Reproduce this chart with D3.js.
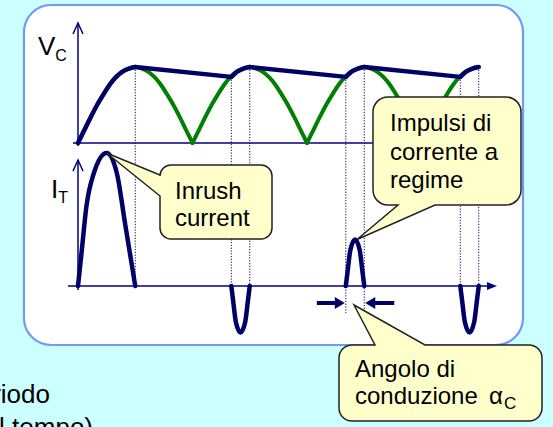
<!DOCTYPE html>
<html><head><meta charset="utf-8">
<script src="https://cdn.jsdelivr.net/npm/d3@7"></script>
<style>html,body{margin:0;padding:0;background:#ccffff;overflow:hidden} svg{display:block;font-family:"Liberation Sans",Arial,sans-serif}</style>
</head><body><svg id="c" width="553" height="427"></svg>
<script>
// ---------- data ----------
const archAngles = [0,10,20,30,40,50,60,70,80,90,100,110,120,130,140,150,160,170,180];
const archValues = [0,0.17,0.34,0.5,0.64,0.77,0.87,0.94,0.98,1,0.98,0.94,0.87,0.77,0.64,0.5,0.34,0.17,0];
const archStarts = [0,180,360,540];
const vEndAngle = 630;
const peakAngles = [90,270,450,630];
const chargeAngles = [241,421,601];
const chargeLevels = [0.87,0.87,0.87];
const inrushAngles = [0,6,13,25,45,61,74,90];
const inrushCurrent = [0,2.7,5.9,8.5,10,8.5,4.7,0];
const pulseStart = [241,421,601];
const pulseEnd = [270,450,630];
const pulsePeak = [-3.5,3.5,-3.5];
const pulseShapeFrac = [0,0.1,0.25,0.5,0.75,0.9,1];
const pulseShapeVal = [0,0.32,0.78,1,0.78,0.32,0];
const guideAngles = [90,241,270,421,450,601,630];
const conductionAngles = [421,450];
const calloutTexts = [["Inrush","current"],["Impulsi di","corrente a","regime"],["Angolo di","conduzione","α","C"]];
const sideTexts = ["periodo","(andamento nel tempo)"];

// ---------- layout ----------
const svg = d3.select("#c");
const navy = "#000066", green = "#008000";
const x = d3.scaleLinear().domain([0,180]).range([78,192.5]);
const yV = d3.scaleLinear().domain([0,1]).range([143,67]);
const yI = d3.scaleLinear().domain([0,10]).range([286,153]);

svg.append("rect").attr("width",553).attr("height",427).attr("fill","#ccffff");
svg.append("rect").attr("x",24).attr("y",5).attr("width",499).attr("height",340).attr("rx",27)
  .attr("fill","#fff").attr("stroke","#6f9bf5").attr("stroke-width",2.2);

// side text (partially outside, as in the reference)
svg.append("text").attr("x",50).attr("y",403).attr("text-anchor","end").attr("font-size",26).attr("fill","#000").text(sideTexts[0]);
svg.append("text").attr("x",93).attr("y",436).attr("text-anchor","end").attr("font-size",26).attr("fill","#000").text(sideTexts[1]);

// guide dotted lines
const levelAt = a => { const k = chargeAngles.indexOf(a); return k >= 0 ? chargeLevels[k] : 1; };
svg.append("g").selectAll("line").data(guideAngles).join("line")
  .attr("x1",d=>x(d)).attr("x2",d=>x(d))
  .attr("y1",d=>yV(levelAt(d)))
  .attr("y2",d=>conductionAngles.includes(d) ? yI(0)+27 : yI(0))
  .attr("stroke",navy).attr("stroke-width",1).attr("stroke-dasharray","1.2,1.6");

// axes
const ax = svg.append("g").attr("stroke","#000080").attr("stroke-width",1.5).attr("fill","none");
ax.append("line").attr("x1",x(0)).attr("x2",x(0)).attr("y1",yV(0)+3).attr("y2",23);
ax.append("path").attr("d",`M${x(0)-5},34 L${x(0)},23 L${x(0)+5},34`);
ax.append("line").attr("x1",x(0)-5).attr("x2",480).attr("y1",yV(0)).attr("y2",yV(0));
ax.append("line").attr("x1",x(0)).attr("x2",x(0)).attr("y1",yI(0)+4).attr("y2",160);
ax.append("path").attr("d",`M${x(0)-5},171 L${x(0)},160 L${x(0)+5},171`);
ax.append("line").attr("x1",x(0)-10).attr("x2",489).attr("y1",yI(0)).attr("y2",yI(0));
svg.append("path").attr("d",`M487,${yI(0)-4} L497,${yI(0)} L487,${yI(0)+4} Z`).attr("fill","#000080");

// labels
const vl = svg.append("text").attr("x",38).attr("y",55).attr("font-size",26).attr("fill","#000");
vl.append("tspan").text("V");
vl.append("tspan").attr("font-size",16).attr("dy",6).text("C");
const il = svg.append("text").attr("x",51).attr("y",198).attr("font-size",26).attr("fill","#000");
il.append("tspan").text("I");
il.append("tspan").attr("font-size",16).attr("dy",5).text("T");

// green rectified sine
const lineV = d3.line().x(d=>x(d.t)).y(d=>yV(d.v)).curve(d3.curveMonotoneX);
archStarts.forEach(s => {
  const pts = archAngles.map((a,i)=>({t:s+a, v:archValues[i]})).filter(p=>p.t<=vEndAngle);
  svg.append("path").attr("d",lineV(pts)).attr("fill","none").attr("stroke",green)
    .attr("stroke-width",4).attr("stroke-linecap","round");
});

// blue capacitor voltage envelope
const blue = svg.append("g").attr("fill","none").attr("stroke",navy).attr("stroke-width",4.5)
  .attr("stroke-linecap","round").attr("stroke-linejoin","round");
const rise0 = archAngles.map((a,i)=>({t:a, v:archValues[i]})).filter(p=>p.t<=peakAngles[0]);
blue.append("path").attr("d",lineV(rise0));
chargeAngles.forEach((c,k) => {
  const lin = d3.line().x(d=>x(d.t)).y(d=>yV(d.v));
  blue.append("path").attr("d",lin([{t:peakAngles[k],v:1},{t:c,v:chargeLevels[k]}]));
  const s = archStarts[k+1];
  const pts = [{t:c,v:chargeLevels[k]}].concat(
    archAngles.map((a,i)=>({t:s+a, v:archValues[i]})).filter(p=>p.t>c && p.t<=peakAngles[k+1]));
  blue.append("path").attr("d",lineV(pts));
});

// currents
const lineI = d3.line().x(d=>x(d.t)).y(d=>yI(d.i)).curve(d3.curveMonotoneX);
const cur = svg.append("g").attr("fill","none").attr("stroke",navy).attr("stroke-width",4.5)
  .attr("stroke-linecap","round").attr("stroke-linejoin","round");
cur.append("path").attr("d",lineI(inrushAngles.map((a,i)=>({t:a,i:inrushCurrent[i]}))));
pulseStart.forEach((s,k) => {
  const pts = pulseShapeFrac.map((f,i)=>({t:s+f*(pulseEnd[k]-s), i:pulsePeak[k]*pulseShapeVal[i]}));
  cur.append("path").attr("d",lineI(pts));
});

// conduction angle arrows
const ay = yI(0)+17;
const xa = x(conductionAngles[0]), xb = x(conductionAngles[1]);
const arr = svg.append("g").attr("fill",navy);
arr.append("rect").attr("x",xa-29).attr("y",ay-2).attr("width",19).attr("height",4);
arr.append("path").attr("d",`M${xa-11},${ay-6} L${xa-1},${ay} L${xa-11},${ay+6} Z`);
arr.append("rect").attr("x",xb+10).attr("y",ay-2).attr("width",20).attr("height",4);
arr.append("path").attr("d",`M${xb+11},${ay-6} L${xb+1},${ay} L${xb+11},${ay+6} Z`);

// callouts
function callout(x0,y0,x1,y1,r,side,a,b,tx,ty){
  let p = `M${x0+r},${y0}`;
  if(side==="top") p += ` H${a} L${tx},${ty} L${b},${y0}`;
  p += ` H${x1-r} A${r},${r} 0 0 1 ${x1},${y0+r} V${y1-r} A${r},${r} 0 0 1 ${x1-r},${y1}`;
  if(side==="bottom") p += ` H${b} L${tx},${ty} L${a},${y1}`;
  p += ` H${x0+r} A${r},${r} 0 0 1 ${x0},${y1-r}`;
  if(side==="left") p += ` V${b} L${tx},${ty} L${x0},${a}`;
  p += ` V${y0+r} A${r},${r} 0 0 1 ${x0+r},${y0} Z`;
  return p;
}
const tip1 = [x(inrushAngles[4]), yI(inrushCurrent[4])];
const tip2 = [x((pulseStart[1]+pulseEnd[1])/2)+2, yI(pulsePeak[1])];
const co = svg.append("g").attr("fill","#ffffcc").attr("stroke","#222").attr("stroke-width",1.5);
co.append("path").attr("d",callout(160,165,272,239,11,"left",175,196,tip1[0],tip1[1]));
co.append("path").attr("d",callout(373,97,521,205,15,"bottom",398,435,tip2[0],tip2[1]));
co.append("path").attr("d",callout(339,345,542,421,13,"top",375,425,(xa+xb)/2-1,ay+2));

const tx = svg.append("g").attr("font-size",24).attr("fill","#000");
calloutTexts[0].forEach((t,i)=>tx.append("text").attr("x",175).attr("y",199+i*27).text(t));
calloutTexts[1].forEach((t,i)=>tx.append("text").attr("x",390).attr("y",131+i*28.5).text(t));
tx.append("text").attr("x",355).attr("y",377).text(calloutTexts[2][0]);
const t3 = tx.append("text").attr("x",355).attr("y",404);
t3.append("tspan").text(calloutTexts[2][1]);
t3.append("tspan").attr("x",489).text(calloutTexts[2][2]);
t3.append("tspan").attr("font-size",17).attr("dy",5).attr("dx",1).text(calloutTexts[2][3]);
</script></body></html>
